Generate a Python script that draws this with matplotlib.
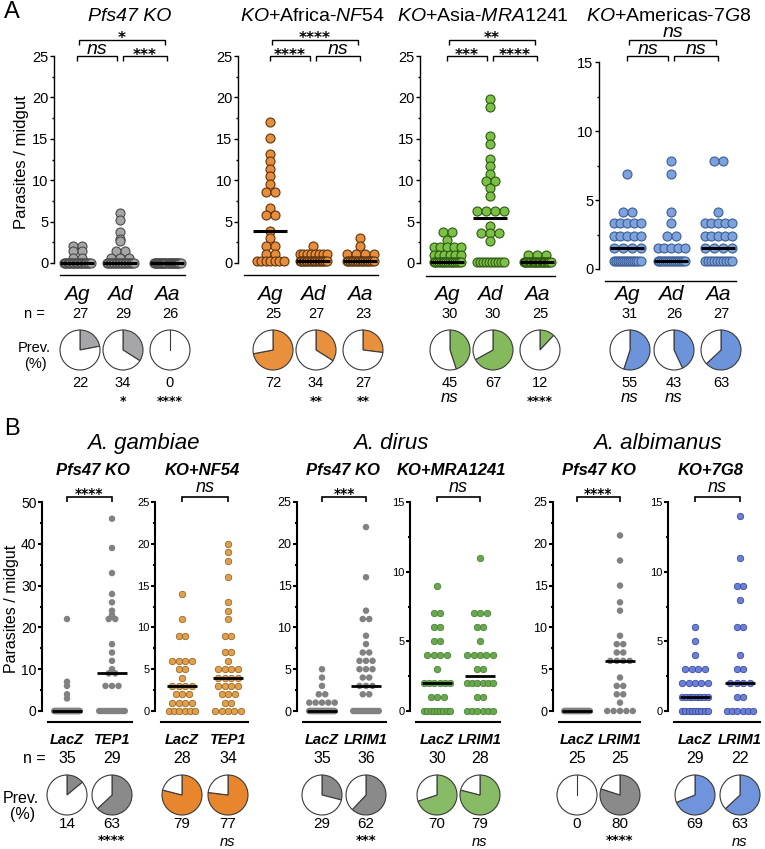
import numpy as np
import matplotlib
matplotlib.use("Agg")
import matplotlib.pyplot as plt

plt.rcParams['font.family'] = ['Liberation Sans', 'DejaVu Sans']
plt.rcParams['mathtext.fontset'] = 'custom'
plt.rcParams['mathtext.rm'] = 'Liberation Sans'
plt.rcParams['mathtext.it'] = 'Liberation Sans:italic'
plt.rcParams['mathtext.bf'] = 'Liberation Sans:bold'

# ------------------------------------------------------------------ data A
A_titles = ["Pfs47 KO", r"$\mathit{KO}$+Africa-$\mathit{NF54}$",
            r"$\mathit{KO}$+Asia-$\mathit{MRA1241}$", r"$\mathit{KO}$+Americas-$\mathit{7G8}$"]
A_cats = ["Ag", "Ad", "Aa"]
A_ymax = [25, 25, 25, 15]
A_n = [[27, 29, 26], [25, 27, 23], [30, 30, 25], [31, 26, 27]]
A_prev = [[22, 34, 0], [72, 34, 27], [45, 67, 12], [55, 43, 63]]
A_prev_sig = [["", "*", "****"], ["", "**", "**"], ["ns", "", "****"], ["ns", "ns", ""]]
# (Ag-Ad, Ad-Aa, Ag-Aa)
A_pair_sig = [["ns", "***", "*"], ["****", "ns", "****"], ["***", "****", "**"], ["ns", "ns", "ns"]]

# frequency tables (value, count)
A_pfs47 = [
    [(2.1, 2), (1.4, 2), (0.6, 2), (0, 21)],
    [(6.0, 1), (5.2, 1), (3.7, 1), (2.9, 1), (2.6, 1), (1.4, 2), (0.6, 3), (0, 19)],
    [(0, 26)],
]
A_nf54 = [
    [(17, 1), (15.1, 1), (13.2, 1), (12.3, 1), (11.4, 1), (10.5, 1), (9.6, 1), (8.6, 2),
     (6.7, 1), (5.8, 2), (3.9, 1), (3.0, 1), (2.1, 2), (1.1, 2), (0.3, 7)],
    [(2.1, 1), (1.1, 8), (0.3, 18)],
    [(3.0, 1), (2.1, 1), (1.1, 4), (0.3, 17)],
]
A_mra = [
    [(3.7, 2), (2.8, 1), (1.9, 5), (1.0, 6), (0.1, 16)],
    [(19.8, 1), (18.9, 1), (15.3, 1), (14.4, 1), (12.6, 1), (11.7, 1), (10.8, 1), (9.9, 2),
     (9.0, 1), (8.1, 1), (6.3, 4), (4.5, 1), (3.6, 3), (2.7, 1), (0.1, 10)],
    [(1.0, 3), (0.1, 22)],
]
A_7g8 = [
    [(6.9, 1), (4.1, 2), (3.3, 5), (2.4, 5), (1.5, 4), (0.6, 14)],
    [(7.8, 1), (6.9, 1), (4.1, 1), (3.3, 1), (2.4, 2), (1.5, 5), (0.6, 15)],
    [(7.8, 2), (4.1, 1), (3.3, 5), (2.4, 5), (1.5, 4), (0.6, 10)],
]
A_data = [A_pfs47, A_nf54, A_mra, A_7g8]

# ------------------------------------------------------------------ data B
B_species = ["A. gambiae", "A. dirus", "A. albimanus"]
B_sub = ["Pfs47 KO", "KO+NF54", "Pfs47 KO", "KO+MRA1241", "Pfs47 KO", "KO+7G8"]
B_cats = [["LacZ", "TEP1"], ["LacZ", "TEP1"], ["LacZ", "LRIM1"],
          ["LacZ", "LRIM1"], ["LacZ", "LRIM1"], ["LacZ", "LRIM1"]]
B_ymax = [50, 25, 25, 15, 25, 15]
B_n = [[35, 29], [28, 34], [35, 36], [30, 28], [25, 25], [29, 22]]
B_prev = [[14, 63], [79, 77], [29, 62], [70, 79], [0, 80], [69, 63]]
B_prev_sig = [["", "****"], ["", "ns"], ["", "***"], ["", "ns"], ["", "****"], ["", "ns"]]
B_pair_sig = ["****", "ns", "***", "ns", "****", "ns"]

B_data = [
    [[(22, 1), (7, 1), (6, 1), (4, 1), (3, 1), (0, 30)],
     [(46, 1), (39, 1), (33, 1), (28, 1), (26, 1), (24, 1), (23, 1), (22, 2), (16, 1), (14, 1),
      (12, 1), (10, 1), (9, 2), (6, 3), (0, 11)]],
    [[(14, 1), (11, 1), (9, 2), (6, 4), (5, 2), (4, 1), (3, 4), (2, 3), (1, 4), (0, 6)],
     [(20, 1), (19, 1), (18, 1), (16, 1), (13, 1), (12, 1), (11, 1), (9, 2), (7, 2), (6, 1),
      (5, 4), (4, 4), (3, 4), (2, 3), (1, 2), (0, 5)]],
    [[(5, 1), (4, 1), (3, 1), (2, 2), (1, 5), (0, 25)],
     [(22, 1), (16, 1), (12, 1), (11, 2), (9, 1), (8, 1), (7, 2), (6, 3), (5, 3), (4, 2),
      (3, 3), (2, 2), (0, 14)]],
    [[(9, 1), (7, 2), (6, 2), (5, 2), (4, 4), (3, 1), (2, 6), (1, 3), (0, 9)],
     [(11, 1), (7, 3), (6, 2), (5, 1), (4, 5), (3, 2), (2, 6), (1, 2), (0, 6)]],
    [[(0, 25)],
     [(21, 1), (18, 1), (15, 1), (13, 1), (12, 1), (9, 1), (8, 2), (7, 2), (6, 4), (4, 1),
      (3, 2), (2, 2), (1, 1), (0, 5)]],
    [[(6, 1), (5, 1), (4, 1), (3, 4), (2, 5), (1, 8), (0, 9)],
     [(14, 1), (11, 1), (9, 2), (8, 1), (6, 2), (4, 1), (3, 2), (2, 4), (1, 2), (0, 6)]],
]

# ------------------------------------------------------------------ styles
A_face = ["#a6a6a6", "#e88d3a", "#7cc146", "#7ea2dc"]
A_edge = ["#4a4a4a", "#5c3510", "#2d5a12", "#3b5d95"]
A_pie = ["#a6a6a8", "#e9903c", "#84b95c", "#6d94da"]
B_panel_face = ["#818181", "#e2a04a", "#818181", "#6aa84f", "#818181", "#6b7fd7"]
B_panel_edge = ["none", "#8a5a1a", "none", "#3f7a2a", "none", "#2c3c9a"]
B_pie = ["#8a8a8a", "#e8862e", "#8a8a8a", "#88bb66", "#8a8a8a", "#6f94dc"]

W, H = 765, 849
fig = plt.figure(figsize=(W / 100, H / 100), dpi=100)
ov = fig.add_axes([0, 0, 1, 1])
ov.set_xlim(0, W)
ov.set_ylim(H, 0)
ov.axis('off')

PX2PT = 0.72


def expand(table):
    return np.array([v for v, c in table for _ in range(c)], dtype=float)


def row_offsets(vals, d, maxw):
    xs = np.zeros(len(vals))
    for v in np.unique(vals):
        idx = np.where(vals == v)[0]
        n = len(idx)
        step = d if n <= 1 else min(d, (maxw - d) / (n - 1))
        xs[idx] = (np.arange(n) - (n - 1) / 2) * step
    return xs


def put(x, yc, s, fs, kind='cap', **kw):
    em = fs * 100 / 72
    off = {'cap': 0.36, 'x': 0.26, 'star': 0.56}[kind]
    ov.text(x, yc + off * em, s, fontsize=fs, ha='center', va='baseline', **kw)


def sig(x, yc, s, fs_ns, fs_star):
    if not s:
        return
    if s == 'ns':
        put(x, yc, 'ns', fs_ns, 'x', style='italic')
    else:
        put(x, yc, s, fs_star, 'star', family='DejaVu Sans', fontweight='bold')


def bracket(x0, x1, y, tick=5, lw=1.0):
    ov.plot([x0, x0, x1, x1], [y + tick, y, y, y + tick], color='k', lw=lw,
            solid_capstyle='butt', solid_joinstyle='miter')


def dot_axes(axis_x, cats_x, top_y, zero_y, line_y, ymax, step, groups, face, edge,
             d, maxw, med_half, med_lw, lw_sp, tick_fs, ew, x_right):
    ax = fig.add_axes([axis_x / W, 1 - zero_y / H, (x_right - axis_x) / W, (zero_y - top_y) / H])
    ax.set_xlim(axis_x, x_right)
    ax.set_ylim(0, ymax)
    ax.patch.set_visible(False)
    for s in ['top', 'right']:
        ax.spines[s].set_visible(False)
    ax.spines['left'].set_linewidth(lw_sp)
    ax.spines['bottom'].set_position(('outward', (line_y - zero_y) * PX2PT))
    ax.spines['bottom'].set_bounds(axis_x + 6, x_right)
    ax.spines['bottom'].set_linewidth(lw_sp)
    ax.set_xticks([])
    ax.set_yticks(np.arange(0, ymax + 0.1, step))
    ax.set_yticks(np.arange(step / 2, ymax, step), minor=True)
    ax.tick_params(axis='y', which='major', length=3, width=lw_sp, pad=1, labelsize=tick_fs)
    ax.tick_params(axis='y', which='minor', length=1.8, width=lw_sp)
    for cx, table in zip(cats_x, groups):
        vals = expand(table)
        offs = row_offsets(vals, d, maxw)
        ax.scatter(cx + offs, vals, s=(d * PX2PT) ** 2, c=face, edgecolors=edge,
                   linewidths=ew, clip_on=False, zorder=3)
        med = np.median(vals)
        ax.hlines(med, cx - med_half, cx + med_half, color='k', lw=med_lw, zorder=4,
                  clip_on=False)
    return ax


def pie_at(cx, cy, p, color, r=21):
    pa = fig.add_axes([(cx - r) / W, 1 - (cy + r) / H, 2 * r / W, 2 * r / H])
    pa.pie([p, 100 - p], colors=[color, 'white'], startangle=90, counterclock=False,
           wedgeprops=dict(edgecolor='#3a3a3a', linewidth=0.8))
    if p == 0:
        pa.plot([0, 0], [0, 1], color='#3a3a3a', lw=0.8)
    pa.set_aspect('auto')
    pa.set_xlim(-1.05, 1.05)
    pa.set_ylim(-1.05, 1.05)


# ------------------------------------------------------------------ panel A
A_layout = [
    dict(axis=54, cats=[77, 120, 167], top=56, zero=263, line=275, title_x=130),
    dict(axis=238, cats=[270, 313, 360], top=56, zero=263, line=275, title_x=313),
    dict(axis=420, cats=[447, 490, 537], top=56, zero=263, line=276, title_x=483),
    dict(axis=599, cats=[627, 671, 718], top=62, zero=269, line=281, title_x=669),
]

ov.text(12, 12, "A", fontsize=17, ha='center', va='center')
ov.text(22, 162, "Parasites / midgut", rotation=90, fontsize=12, ha='center', va='center')
put(34, 313, "n =", 10.5)
put(34, 347, "Prev.", 10.5)
put(35, 363, "(%)", 10.5)

for i, L in enumerate(A_layout):
    cats = L['cats']
    dot_axes(L['axis'], cats, L['top'], L['zero'], L['line'], A_ymax[i], 5, A_data[i],
             A_face[i], A_edge[i], d=9, maxw=36, med_half=17, med_lw=2.2, lw_sp=1.0,
             tick_fs=10.5, ew=0.8, x_right=cats[-1] + 18)
    if i == 0:
        put(L['title_x'], 14, A_titles[i], 14, style='italic')
    else:
        put(L['title_x'], 14, A_titles[i], 14)
    # brackets
    bracket(cats[0], cats[1] - 3, 56)
    bracket(cats[1] + 3, cats[2], 56)
    bracket(cats[0] + 2, cats[2] - 2, 40)
    s_lo1, s_lo2, s_up = A_pair_sig[i]
    sig((cats[0] + cats[1] - 3) / 2, 49 if s_lo1 == 'ns' else 51, s_lo1, 14, 11)
    sig((cats[1] + 3 + cats[2]) / 2, 49 if s_lo2 == 'ns' else 51, s_lo2, 14, 11)
    sig((cats[0] + cats[2]) / 2, 32 if s_up == 'ns' else 34, s_up, 14, 11)
    for j, cx in enumerate(cats):
        put(cx, 292, A_cats[j], 15, style='italic')
        put(cx + 3, 313, str(A_n[i][j]), 10.5)
        pie_at(cx + 3, 350, A_prev[i][j], A_pie[i])
        put(cx + 3, 382, str(A_prev[i][j]), 10.5)
        sig(cx + 3, 398, A_prev_sig[i][j], 12, 9)

# ------------------------------------------------------------------ panel B
B_layout = [
    dict(axis=42, cats=[67, 112], tick_fs=10),
    dict(axis=155, cats=[182, 228], tick_fs=8),
    dict(axis=297, cats=[322, 366], tick_fs=9),
    dict(axis=410, cats=[437, 480], tick_fs=8),
    dict(axis=553, cats=[577, 620], tick_fs=9),
    dict(axis=668, cats=[695, 740], tick_fs=8),
]
B_species_x = [143, 391, 657]
B_sub_x = [93, 202, 343, 451, 599, 711]

ov.text(12, 429, "B", fontsize=17, ha='center', va='center')
ov.text(12, 609, "Parasites / midgut", rotation=90, fontsize=11.5, ha='center', va='center')
put(34, 757, "n =", 11.5)
put(21, 797, "Prev.", 11.5)
put(23, 813, "(%)", 11.5)

for k, name in enumerate(B_species):
    put(B_species_x[k], 441, name, 16, style='italic')

for i, L in enumerate(B_layout):
    cats = L['cats']
    step = 10 if B_ymax[i] == 50 else 5
    dot_axes(L['axis'], cats, 502, 711, 722, B_ymax[i], step, B_data[i],
             B_panel_face[i], B_panel_edge[i], d=6.5, maxw=32, med_half=15, med_lw=2.0,
             lw_sp=1.5, tick_fs=L['tick_fs'], ew=0.5, x_right=cats[-1] + 20)
    put(B_sub_x[i], 469, B_sub[i], 12, style='italic', fontweight='bold')
    bracket(cats[0], cats[1], 497, tick=5, lw=1.2)
    if B_pair_sig[i] == 'ns':
        sig((cats[0] + cats[1]) / 2, 487, 'ns', 13, 10)
    else:
        sig((cats[0] + cats[1]) / 2, 490, B_pair_sig[i], 13, 10)
    for j, cx in enumerate(cats):
        put(cx, 757, str(B_n[i][j]), 11.5)
        put(cx, 739, B_cats[i][j], 10.5, style='italic', fontweight='bold')
        pie_at(cx, 795, B_prev[i][j], B_pie[i])
        put(cx, 823, str(B_prev[i][j]), 11)
        s = B_prev_sig[i][j]
        if s == 'ns':
            sig(cx, 842, s, 10.5, 9.5)
        else:
            sig(cx, 837, s, 10.5, 9.5)

fig.savefig("out.png", dpi=100)
